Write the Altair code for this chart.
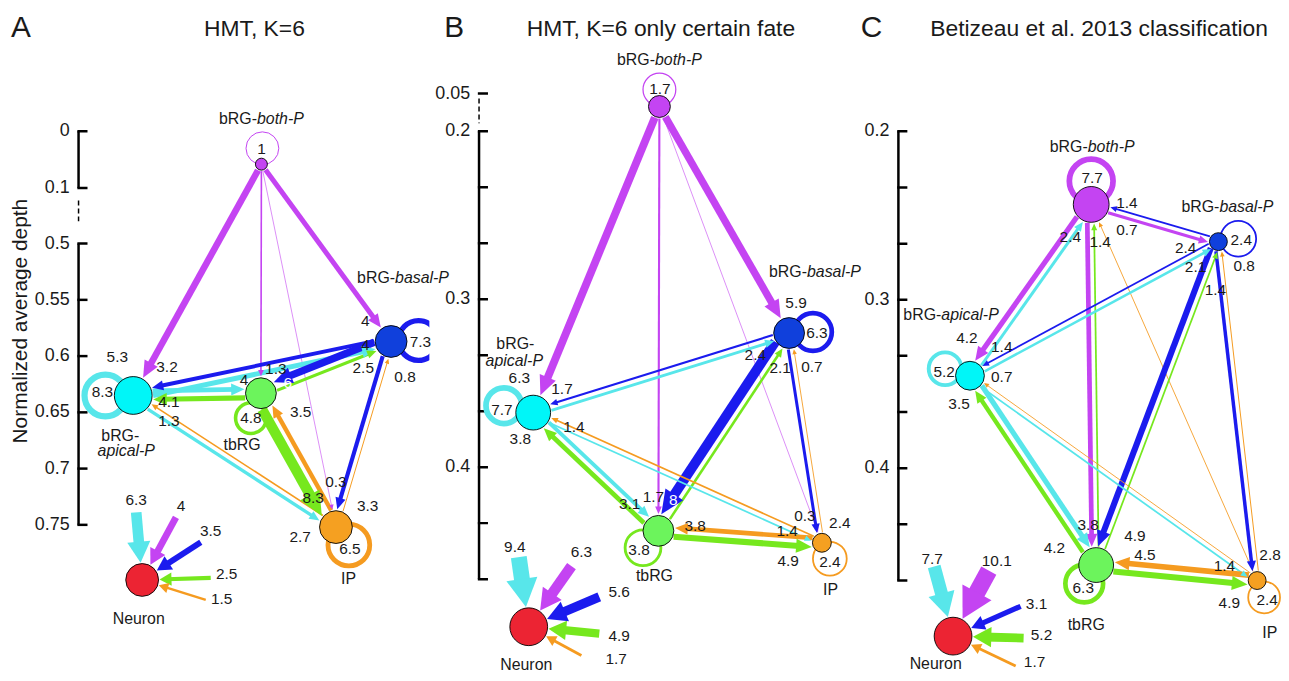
import math
import altair as alt
import pandas as pd

FONT = "Liberation Sans"
PANEL_W = [424, 424, 433]
PANEL_H = 665
INK = "#1a1a1a"

KEYS = ["both", "basal", "apical", "tb", "ip", "neu"]
NEURON_SRC = ["apical", "both", "basal", "tb", "ip"]

# ---------------- values ----------------
# Panel A : HMT, K=6   (depth of each node: both, basal, apical, tbRG, IP, Neuron)
A_DEPTH = [0.058, 0.587, 0.635, 0.633, 0.752, 0.799]
A_SELF = [1, 7.3, 8.3, 4.8, 6.5]
A_EDGES = [
    ("both", "apical", 5.3), ("both", "basal", 4), ("both", "tb", 1.3), ("both", "ip", 0.3),
    ("basal", "apical", 3.2), ("apical", "basal", 4), ("basal", "tb", 6), ("tb", "basal", 2.5),
    ("basal", "ip", 3.3), ("ip", "basal", 0.8), ("apical", "tb", 4), ("tb", "apical", 4.1),
    ("apical", "ip", 2.7), ("ip", "apical", 1.3), ("tb", "ip", 8.3), ("ip", "tb", 3.5),
]
A_TO_NEURON = [6.3, 4, 3.5, 2.5, 1.5]

# Panel B : HMT, K=6 only certain fate
B_DEPTH = [0.1014, 0.3201, 0.3675, 0.4379, 0.445, 0.495]
B_SELF = [1.7, 6.3, 7.7, 3.8, 2.4]
B_EDGES = [
    ("both", "apical", 6.3), ("both", "basal", 5.9), ("both", "tb", 1.7), ("both", "ip", 0.3),
    ("basal", "apical", 1.7), ("apical", "basal", 2.4), ("basal", "tb", 8), ("tb", "basal", 2.1),
    ("basal", "ip", 2.4), ("ip", "basal", 0.7), ("apical", "tb", 3.1), ("tb", "apical", 3.8),
    ("apical", "ip", 1.4), ("ip", "apical", 1.4), ("tb", "ip", 4.9), ("ip", "tb", 3.8),
]
B_TO_NEURON = [9.4, 6.3, 5.6, 4.9, 1.7]

# Panel C : Betizeau et al. 2013 classification
C_DEPTH = [0.2434, 0.2655, 0.3451, 0.4575, 0.4667, 0.4997]
C_SELF = [7.7, 2.4, 5.2, 6.3, 2.4]
C_EDGES = [
    ("both", "apical", 4.2), ("apical", "both", 2.4), ("both", "basal", 2.4), ("basal", "both", 1.4),
    ("ip", "both", 0.7), ("both", "tb", 3.8), ("tb", "both", 1.4),
    ("apical", "basal", 2.1), ("basal", "apical", 1.4), ("basal", "tb", 4.9), ("tb", "basal", 1.4),
    ("basal", "ip", 2.8), ("ip", "basal", 0.8), ("apical", "tb", 4.2), ("tb", "apical", 3.5),
    ("apical", "ip", 1.4), ("ip", "apical", 0.7), ("tb", "ip", 4.9), ("ip", "tb", 4.5),
]
C_TO_NEURON = [7.7, 10.1, 3.1, 5.2, 1.7]

TITLES = ["HMT, K=6", "HMT, K=6 only certain fate", "Betizeau et al. 2013 classification"]
LETTERS = ["A", "B", "C"]
AXIS_TITLE = "Normalized average depth"

# ---------------- styles ----------------
EDGE_COL = {"both": "#c444f2", "basal": "#1b1bee", "apical": "#58e6ea", "tb": "#76e81e", "ip": "#f59b20"}
NODE_FILL = {"both": "#c444f2", "basal": "#1040dc", "apical": "#00f6f8", "tb": "#6cf45c",
             "ip": "#f5a021", "neu": "#ec2433"}
EDGE_HEAD = "M0,-1L0.9,1L-0.9,1Z"
NEURON_HEAD = "M0,-1L1.1,1L-1.1,1Z"

THIRDS = [0.2, 0.2333, 0.2667, 0.3, 0.3333, 0.3667, 0.4, 0.4333, 0.4667]


def names(both, basal, apical, tb, ip, neu):
    return {"both": both, "basal": basal, "apical": apical, "tb": tb, "ip": ip, "neu": neu}


LAYOUT_A = dict(
    dom=[0, 0.1, 0.5, 0.75], rng=[122, 179, 235, 518],
    axis_x=71, solid=[(0, 0.1), (0.5, 0.75)], dashed=[(0.19, 0.36)],
    ticks=[0, 0.1, 0.5, 0.55, 0.6, 0.65, 0.7, 0.75],
    labels=[(0, "0"), (0.1, "0.1"), (0.5, "0.5"), (0.55, "0.55"), (0.6, "0.6"),
            (0.65, "0.65"), (0.7, "0.7"), (0.75, "0.75")],
    axis_title=True,
    x=[255, 385.5, 126, 254.5, 330, 135],
    r=[6, 16, 19, 15.5, 16.5, 16.5],
    loop={"both": (1, -16, 16.5), "basal": (27.5, -1, 20), "apical": (-28, 0, 21),
          "tb": (-10, 25, 15.5), "ip": (13, 18, 21)},
    loop_lab={"both": (0, -15), "basal": (29.5, 1), "apical": (-31, -3), "tb": (-10, 25), "ip": (14, 22)},
    names=names(
        [(0, -45, [("bRG-", "normal"), ("both-P", "italic")])],
        [(12, -64, [("bRG-", "normal"), ("basal-P", "italic")])],
        [(-13, 41, [("bRG-", "normal")]), (-7, 56, [("apical-P", "italic")])],
        [(-19, 52, [("tbRG", "normal")])],
        [(15, 52, [("IP", "normal")])],
        [(-3, 39, [("Neuron", "normal")])]),
    lab={("both", "apical"): (-16, -39), ("both", "basal"): (-26, -21), ("both", "tb"): (15, -24),
         ("both", "ip"): (0, -45), ("basal", "apical"): (34, -29), ("apical", "basal"): (-26, 4),
         ("basal", "tb"): (27, -10), ("tb", "basal"): (-28, 27), ("basal", "ip"): (32, -21),
         ("ip", "basal"): (14, 36), ("apical", "tb"): (-17, -13), ("tb", "apical"): (36, 7),
         ("apical", "ip"): (-36, 10), ("ip", "apical"): (36, 26), ("tb", "ip"): (-23, -29),
         ("ip", "tb"): (40, 19)},
    white=[("basal", "tb")],
    flip=[("apical", "tb")],
    n_tail={"apical": (-6, -68), "both": (34, -63), "basal": (59, -38), "tb": (69, -2), "ip": (64, 20)},
    n_lab={"apical": (-6, -80), "both": (39, -74), "basal": (69, -49), "tb": (85, -6), "ip": (80, 19)},
    letter_x=3, title_x=248,
)

LAYOUT_B = dict(
    dom=[0.05, 0.2, 0.4], rng=[84, 122, 460],
    axis_x=50, solid=[(0.2, 0.4667)], dashed=[(0.07, 0.168)],
    ticks=[0.05] + THIRDS,
    labels=[(0.05, "0.05"), (0.2, "0.2"), (0.3, "0.3"), (0.4, "0.4")],
    axis_title=False,
    x=[231.5, 362, 104.5, 230.5, 395, 100],
    r=[11, 15.5, 17.5, 15.5, 9.5, 19],
    loop={"both": (0, -17, 16.5), "basal": (24, -1, 19), "apical": (-29.5, -7, 18),
          "tb": (-15.5, 17, 18), "ip": (8, 16, 17)},
    loop_lab={"both": (0.5, -18), "basal": (28, 0), "apical": (-31.5, -3), "tb": (-19.5, 19), "ip": (8, 19)},
    names=names(
        [(0, -47, [("bRG-", "normal"), ("both-P", "italic")])],
        [(26, -61, [("bRG-", "normal"), ("basal-P", "italic")])],
        [(-18, -69, [("bRG-", "normal")]), (-19, -52, [("apical-P", "italic")])],
        [(-4, 45, [("tbRG", "normal")])],
        [(11, 48, [("IP", "normal")])],
        [(-2, 39, [("Neuron", "normal")])]),
    lab={("both", "apical"): (-14, -35), ("both", "basal"): (7, -30), ("both", "tb"): (-5, -34),
         ("both", "ip"): (-17, -27), ("basal", "apical"): (29, -24), ("apical", "basal"): (-34, 22),
         ("basal", "tb"): (15, -31), ("tb", "basal"): (-9, 35), ("basal", "ip"): (18, -20),
         ("ip", "basal"): (23, 34), ("apical", "tb"): (-29, -27), ("tb", "apical"): (-13, 27),
         ("apical", "ip"): (-35, -12), ("ip", "apical"): (41, 14), ("tb", "ip"): (-34, 18),
         ("ip", "tb"): (37, -5)},
    white=[("basal", "tb")],
    flip=[("apical", "tb")],
    n_tail={"apical": (-10, -70), "both": (43, -61), "basal": (71, -30), "tb": (71, 7), "ip": (53, 29)},
    n_lab={"apical": (-14, -80), "both": (53, -75), "basal": (91, -35), "tb": (91, 9), "ip": (88, 32)},
    letter_x=15, title_x=233,
)

LAYOUT_C = dict(
    dom=[0.2, 0.4], rng=[122, 461],
    axis_x=48, solid=[(0.2, 0.4667)], dashed=[],
    ticks=THIRDS,
    labels=[(0.2, "0.2"), (0.3, "0.3"), (0.4, "0.4")],
    axis_title=False,
    x=[242, 370, 120, 247, 409, 103],
    r=[18, 9, 14.5, 17.5, 9, 19],
    loop={"both": (0, -23.5, 22), "basal": (20, -3, 18), "apical": (-25, -7, 16.5),
          "tb": (-12, 18.5, 19), "ip": (7, 17, 16)},
    loop_lab={"both": (1, -26.5), "basal": (23, -2), "apical": (-26, -4), "tb": (-13, 23.5), "ip": (10, 20)},
    names=names(
        [(1, -58, [("bRG-", "normal"), ("both-P", "italic")])],
        [(9, -35, [("bRG-", "normal"), ("basal-P", "italic")])],
        [(-19, -61, [("bRG-", "normal"), ("apical-P", "italic")])],
        [(-10, 60, [("tbRG", "normal")])],
        [(15, 53, [("IP", "normal")])],
        [(-17, 28, [("Neuron", "normal")])]),
    lab={("both", "apical"): (-3, -38), ("apical", "both"): (-21, 33), ("both", "basal"): (-33, 6),
         ("basal", "both"): (36, -1), ("ip", "both"): (36, 26), ("both", "tb"): (-8, -40),
         ("tb", "both"): (9, 38), ("apical", "basal"): (-23, 26), ("basal", "apical"): (32, -29),
         ("basal", "tb"): (39, -29), ("tb", "basal"): (-3, 49), ("basal", "ip"): (13, -26),
         ("ip", "basal"): (26, 25), ("apical", "tb"): (-42, -17), ("tb", "apical"): (-11, 28),
         ("apical", "ip"): (-33, -15), ("ip", "apical"): (32, 1), ("tb", "ip"): (-28, 23),
         ("ip", "tb"): (49, -10)},
    white=[],
    flip=[("apical", "tb")],
    n_tail={"apical": (-19, -70), "both": (36, -66), "basal": (68, -30), "tb": (71, 2), "ip": (63, 30)},
    n_lab={"apical": (-21, -78), "both": (44, -76), "basal": (84, -32), "tb": (89, -1), "ip": (82, 26)},
    letter_x=10, title_x=250,
)

# approximate Arial/Liberation advance widths (per 1000 em) for centring mixed-style labels
ADV = {'b': 556, 'R': 722, 'G': 778, '-': 333, 'o': 556, 't': 278, 'h': 556, 'P': 667, 'a': 556,
       's': 500, 'l': 222, 'p': 556, 'i': 222, 'c': 500}


def text_w(s, size):
    return sum(ADV.get(ch, 556) for ch in s) * size / 1000.0


def mapper(dom, rng):
    n = len(dom)

    def seg(vals, v):
        i = 0
        while i < n - 2 and v > vals[i + 1]:
            i += 1
        return i

    def fwd(d):
        i = seg(dom, d)
        return rng[i] + (d - dom[i]) * (rng[i + 1] - rng[i]) / (dom[i + 1] - dom[i])

    def inv(p):
        i = seg(rng, p)
        return dom[i] + (p - rng[i]) * (dom[i + 1] - dom[i]) / (rng[i + 1] - rng[i])

    return fwd, inv


def fmt(v):
    return f"{v:g}"


def build_panel(idx, depths, self_vals, edges, to_neuron, L):
    W = PANEL_W[idx]
    fwd, inv = mapper(L["dom"], L["rng"])
    P = {k: (L["x"][i], fwd(depths[i])) for i, k in enumerate(KEYS)}
    R = dict(zip(KEYS, L["r"]))
    rules, dashed, heads, rings, nodes, texts = [], [], [], [], [], []

    def T(px, py, s, size=15.5, color=INK, align="center", style="normal", angle=0):
        clip = (idx == 2) or (py + 0.6 * size > PANEL_H)
        texts.append(dict(x=px, y=inv(py), t=s, size=size, color=color, align=align,
                          style=style, angle=angle, clip=clip))

    def line(p0, p1, w, c):
        rules.append(dict(x=p0[0], y=inv(p0[1]), x2=p1[0], y2=inv(p1[1]), w=w, c=c))

    # ---- axis ----
    ax = L["axis_x"]
    for a, b in L["solid"]:
        rules.append(dict(x=ax, y=a, x2=ax, y2=b, w=2.5, c="black"))
    for a, b in L["dashed"]:
        dashed.append(dict(x=ax, y=a, x2=ax, y2=b, w=1.5, c="black"))
    for t in L["ticks"]:
        rules.append(dict(x=ax - 1.2, y=t, x2=ax + 9, y2=t, w=2.5, c="black"))
    for t, s in L["labels"]:
        T(ax - 9, fwd(t), s, size=18, align="right")
    if L["axis_title"]:
        T(13, 313, AXIS_TITLE, size=21, angle=270)

    # ---- self loops ----
    for i, k in enumerate(KEYS[:5]):
        v = self_vals[i]
        dx, dy, rr = L["loop"][k]
        rings.append(dict(x=P[k][0] + dx, y=inv(P[k][1] + dy), size=(2 * rr) ** 2,
                          w=max(1.0, 0.75 * v), c=EDGE_COL[k]))
        lx, ly = L["loop_lab"][k]
        T(P[k][0] + lx, P[k][1] + ly, fmt(v))

    # ---- transitions between cell types ----
    eset = {(s, d) for s, d, _ in edges}
    flips = {frozenset(p) for p in L["flip"]}
    for s, d, v in edges:
        S, D = P[s], P[d]
        ln = math.hypot(D[0] - S[0], D[1] - S[1])
        ux, uy = (D[0] - S[0]) / ln, (D[1] - S[1]) / ln
        nx, ny = -uy, ux
        w = max(0.6, 1.25 * v)
        off = 0.0
        if (d, s) in eset:
            off = w / 2 + 1.8
            if frozenset((s, d)) in flips:
                off = -off
        aS = math.sqrt(max((R[s] + 1) ** 2 - off ** 2, 0))
        aD = math.sqrt(max((R[d] + 1.5) ** 2 - off ** 2, 0))
        start = (S[0] + ux * aS + nx * off, S[1] + uy * aS + ny * off)
        tip = (D[0] - ux * aD + nx * off, D[1] - uy * aD + ny * off)
        hl = max(5.0, 3 + 2.6 * v)
        line(start, (tip[0] - ux * hl * 0.6, tip[1] - uy * hl * 0.6), w, EDGE_COL[s])
        hc = (tip[0] - ux * hl / 2, tip[1] - uy * hl / 2)
        heads.append(dict(x=hc[0], y=inv(hc[1]), size=hl * hl,
                          angle=math.degrees(math.atan2(ux, -uy)) % 360,
                          c=EDGE_COL[s], shape=EDGE_HEAD))
        lx, ly = L["lab"][(s, d)]
        T(D[0] + lx, D[1] + ly, fmt(v), color="white" if (s, d) in L["white"] else INK)

    # ---- transitions to neurons ----
    N, rN = P["neu"], R["neu"]
    for src, v in zip(NEURON_SRC, to_neuron):
        tx, ty = L["n_tail"][src]
        T0 = (N[0] + tx, N[1] + ty)
        ln = math.hypot(tx, ty)
        ux, uy = -tx / ln, -ty / ln
        tip = (N[0] - ux * (rN + 1), N[1] - uy * (rN + 1))
        w = 1.7 * v
        hl = 6 + 2.4 * v
        line(T0, (tip[0] - ux * hl * 0.6, tip[1] - uy * hl * 0.6), w, EDGE_COL[src])
        hc = (tip[0] - ux * hl / 2, tip[1] - uy * hl / 2)
        heads.append(dict(x=hc[0], y=inv(hc[1]), size=hl * hl,
                          angle=math.degrees(math.atan2(ux, -uy)) % 360,
                          c=EDGE_COL[src], shape=NEURON_HEAD))
        lx, ly = L["n_lab"][src]
        T(N[0] + lx, N[1] + ly, fmt(v))

    # ---- nodes ----
    for k in KEYS:
        nodes.append(dict(x=P[k][0], y=inv(P[k][1]), size=(2 * R[k]) ** 2, c=NODE_FILL[k]))

    # ---- node names ----
    for k in KEYS:
        for dx, dy, parts in L["names"][k]:
            total = sum(text_w(s, 16) for s, _ in parts)
            x0 = P[k][0] + dx - total / 2
            for s, st in parts:
                T(x0, P[k][1] + dy, s, size=16, align="left", style=st)
                x0 += text_w(s, 16)

    # ---- panel letter and title ----
    T(L["letter_x"], 18, LETTERS[idx], size=30, align="left")
    T(L["title_x"], 19, TITLES[idx], size=23)

    xs = alt.Scale(domain=[0, W], nice=False, zero=False)
    ys = alt.Scale(domain=L["dom"], range=L["rng"], nice=False, zero=False)

    def X():
        return alt.X("x:Q", scale=xs, axis=None)

    def Y():
        return alt.Y("y:Q", scale=ys, axis=None)

    layers = []
    layers.append(alt.Chart(pd.DataFrame(rules)).mark_rule(clip=True).encode(
        x=X(), y=Y(), x2="x2:Q", y2="y2:Q",
        strokeWidth=alt.StrokeWidth("w:Q", scale=None), color=alt.Color("c:N", scale=None)))
    if dashed:
        layers.append(alt.Chart(pd.DataFrame(dashed)).mark_rule(clip=True, strokeDash=[5, 3]).encode(
            x=X(), y=Y(), x2="x2:Q", y2="y2:Q",
            strokeWidth=alt.StrokeWidth("w:Q", scale=None), color=alt.Color("c:N", scale=None)))
    layers.append(alt.Chart(pd.DataFrame(rings)).mark_point(shape="circle", filled=False, opacity=1,
                                                            clip=True).encode(
        x=X(), y=Y(), size=alt.Size("size:Q", scale=None),
        strokeWidth=alt.StrokeWidth("w:Q", scale=None), color=alt.Color("c:N", scale=None)))
    layers.append(alt.Chart(pd.DataFrame(heads)).mark_point(filled=True, opacity=1, strokeWidth=0,
                                                            clip=True).encode(
        x=X(), y=Y(), size=alt.Size("size:Q", scale=None), angle=alt.Angle("angle:Q", scale=None),
        shape=alt.Shape("shape:N", scale=None), color=alt.Color("c:N", scale=None)))
    layers.append(alt.Chart(pd.DataFrame(nodes)).mark_point(shape="circle", filled=True, opacity=1,
                                                            stroke="black", strokeWidth=0.9,
                                                            clip=True).encode(
        x=X(), y=Y(), size=alt.Size("size:Q", scale=None), fill=alt.Fill("c:N", scale=None)))
    tdf = pd.DataFrame(texts)
    for (al, st, cl), g in tdf.groupby(["align", "style", "clip"]):
        layers.append(alt.Chart(g.drop(columns=["clip"]).reset_index(drop=True)).mark_text(
            font=FONT, align=al, baseline="middle", fontStyle=st, clip=bool(cl)).encode(
            x=X(), y=Y(), text="t:N", size=alt.Size("size:Q", scale=None),
            color=alt.Color("color:N", scale=None), angle=alt.Angle("angle:Q", scale=None)))
    return alt.layer(*layers).properties(width=W, height=PANEL_H)


pA = build_panel(0, A_DEPTH, A_SELF, A_EDGES, A_TO_NEURON, LAYOUT_A)
pB = build_panel(1, B_DEPTH, B_SELF, B_EDGES, B_TO_NEURON, LAYOUT_B)
pC = build_panel(2, C_DEPTH, C_SELF, C_EDGES, C_TO_NEURON, LAYOUT_C)

chart = alt.hconcat(pA, pB, pC, spacing=0, bounds="flush").resolve_scale(
    x="independent", y="independent").properties(padding=0).configure_view(stroke=None)

chart.save("out.html", embed_options={"renderer": "svg", "actions": False})
